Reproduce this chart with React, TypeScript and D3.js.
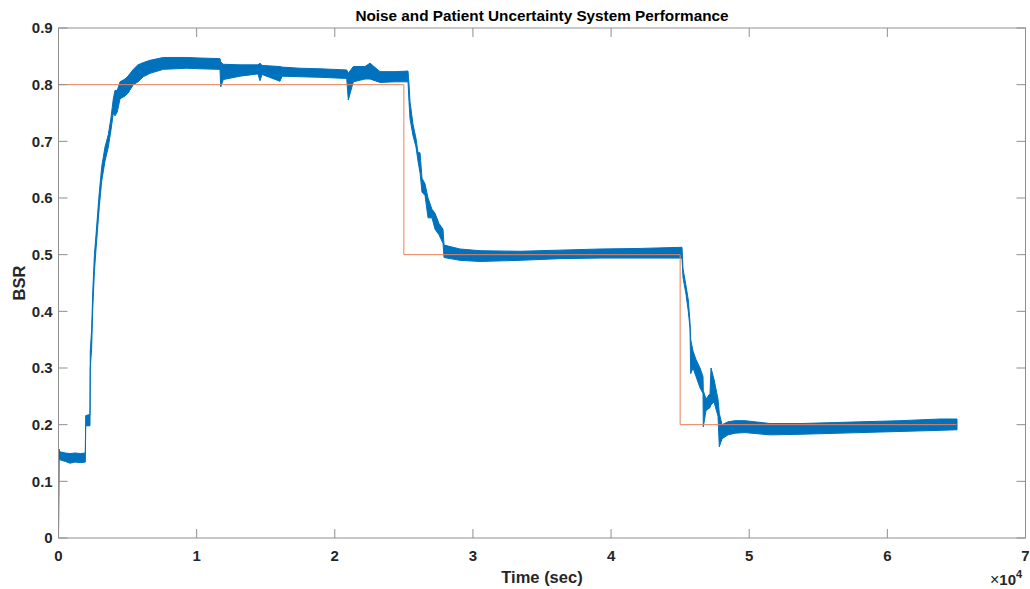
import React from "react";
import * as d3 from "d3";

// ---- data ----
const timeSec = [
  0, 36, 109, 500, 832, 1200, 1600, 1940, 1969, 2280, 2300, 2400, 2480, 2600, 2715,
  2954, 3127, 3366, 3605, 3800, 3967, 4090, 4257, 4452, 4814, 5031, 5415, 5755, 6139,
  6624, 7587, 9280, 10243, 11691, 11742, 11930, 13139, 14442, 14587, 14732, 16035,
  16180, 17483, 18930, 20864, 20979, 21341, 22188, 22550, 23274, 24360, 25300, 25373,
  25445, 25662, 25880, 26024, 26169, 26314, 26531, 26749, 27038, 27255, 27545, 27834,
  27907, 29065, 30513, 33408, 36303, 39199, 42094, 45135, 45207, 45424, 45591, 45714,
  45765, 45931, 46149, 46438, 46655, 46677, 46872, 47162, 47235, 47452, 47741, 47835,
  48030, 48465, 48972, 49696, 51506, 53678, 58021, 60917, 63812, 65043,
];
const bsrLower = [
  0, 0.14, 0.138, 0.135, 0.132, 0.134, 0.133, 0.134, 0.198, 0.198, 0.3, 0.335, 0.405, 0.47, 0.51,
  0.585, 0.63, 0.665, 0.69, 0.72, 0.75, 0.745, 0.752, 0.775, 0.78, 0.785, 0.8, 0.805, 0.814,
  0.82, 0.827, 0.829, 0.828, 0.827, 0.796, 0.809, 0.815, 0.819, 0.807, 0.818, 0.806,
  0.815, 0.814, 0.813, 0.811, 0.773, 0.805, 0.81, 0.81, 0.804, 0.805, 0.805, 0.77,
  0.74, 0.71, 0.69, 0.665, 0.645, 0.61, 0.605, 0.565, 0.565, 0.545, 0.535, 0.52,
  0.495, 0.49, 0.488, 0.49, 0.493, 0.494, 0.494, 0.494, 0.46, 0.43, 0.4, 0.37,
  0.29, 0.3, 0.285, 0.265, 0.255, 0.196, 0.225, 0.23, 0.235, 0.24, 0.215, 0.161,
  0.175, 0.182, 0.185, 0.186, 0.182, 0.183, 0.186, 0.188, 0.19, 0.191,
];
const bsrUpper = [
  0.005, 0.157, 0.152, 0.15, 0.149, 0.15, 0.149, 0.15, 0.216, 0.218, 0.33, 0.368, 0.435, 0.5, 0.535,
  0.61, 0.655, 0.69, 0.712, 0.742, 0.775, 0.79, 0.79, 0.805, 0.81, 0.815, 0.827, 0.835, 0.839,
  0.843, 0.848, 0.848, 0.847, 0.846, 0.84, 0.836, 0.835, 0.835, 0.838, 0.834, 0.832,
  0.831, 0.829, 0.828, 0.826, 0.82, 0.832, 0.832, 0.838, 0.823, 0.823, 0.824, 0.8,
  0.77, 0.73, 0.705, 0.68, 0.68, 0.635, 0.625, 0.6, 0.58, 0.573, 0.555, 0.545,
  0.517, 0.51, 0.507, 0.506, 0.508, 0.51, 0.511, 0.513, 0.475, 0.445, 0.42, 0.38,
  0.35, 0.33, 0.315, 0.3, 0.285, 0.26, 0.245, 0.255, 0.3, 0.28, 0.245, 0.22,
  0.2, 0.205, 0.207, 0.207, 0.202, 0.202, 0.205, 0.207, 0.21, 0.21,
];
const refTime = [0, 25000, 45000, 65000];
const refValue = [0.8, 0.5, 0.2, 0.2];

const xTicks = [0, 10000, 20000, 30000, 40000, 50000, 60000, 70000];
const xTickLabels = ["0", "1", "2", "3", "4", "5", "6", "7"];
const yTicks = [0, 0.1, 0.2, 0.3, 0.4, 0.5, 0.6, 0.7, 0.8, 0.9];
const yTickLabels = ["0", "0.1", "0.2", "0.3", "0.4", "0.5", "0.6", "0.7", "0.8", "0.9"];

const titleText = "Noise and Patient Uncertainty System Performance";
const xLabelText = "Time (sec)";
const yLabelText = "BSR";

export default function App() {
  const W = 1030, H = 589;
  const left = 58.5, right = 1025.5, top = 28, bottom = 538;
  const x = d3.scaleLinear().domain([0, 70000]).range([left, right]);
  const y = d3.scaleLinear().domain([0, 0.9]).range([bottom, top]);

  const band = timeSec.map((t, i) => ({ t, lo: bsrLower[i], hi: bsrUpper[i] }));
  const areaPath = d3
    .area<{ t: number; lo: number; hi: number }>()
    .x((d) => x(d.t))
    .y0((d) => y(d.lo))
    .y1((d) => y(d.hi))(band) || "";

  const ref = refTime.map((t, i) => ({ t, v: refValue[i] }));
  const refPath = d3
    .line<{ t: number; v: number }>()
    .x((d) => x(d.t))
    .y((d) => y(d.v))
    .curve(d3.curveStepAfter)(ref) || "";

  const axisColor = "#8f8f8f";
  const textColor = "#262626";
  const font = "'Liberation Sans', Arial, Helvetica, sans-serif";
  const tickLen = 9;

  return (
    <svg
      width={W}
      height={H}
      style={{ position: "absolute", left: 0, top: 0, background: "#fff" }}
      fontFamily={font}
    >
      <rect x={0} y={0} width={W} height={H} fill="#fff" />
      <path d={areaPath} fill="#0072BD" stroke="#0072BD" strokeWidth={1} strokeLinejoin="round" />
      <path d={refPath} fill="none" stroke="#E8825A" strokeWidth={1} />

      <rect x={left} y={top} width={right - left} height={bottom - top} fill="none" stroke={axisColor} strokeWidth={1} />

      {xTicks.map((t, i) => (
        <g key={"xt" + i}>
          <line x1={x(t)} x2={x(t)} y1={bottom} y2={bottom - tickLen} stroke={axisColor} />
          <line x1={x(t)} x2={x(t)} y1={top} y2={top + tickLen} stroke={axisColor} />
          <text x={x(t)} y={561} textAnchor="middle" fontSize={15} fontWeight="bold" fill={textColor}>
            {xTickLabels[i]}
          </text>
        </g>
      ))}
      {yTicks.map((v, i) => (
        <g key={"yt" + i}>
          <line x1={left} x2={left + tickLen} y1={y(v)} y2={y(v)} stroke={axisColor} />
          <line x1={right} x2={right - tickLen} y1={y(v)} y2={y(v)} stroke={axisColor} />
          <text x={52.7} y={y(v) + 5.3} textAnchor="end" fontSize={15} fontWeight="bold" fill={textColor}>
            {yTickLabels[i]}
          </text>
        </g>
      ))}

      <text x={(left + right) / 2} y={583} textAnchor="middle" fontSize={16.5} fontWeight="bold" fill={textColor}>
        {xLabelText}
      </text>
      <text
        transform={`translate(25, ${(top + bottom) / 2}) rotate(-90)`}
        textAnchor="middle"
        fontSize={16.5}
        fontWeight="bold"
        fill={textColor}
      >
        {yLabelText}
      </text>
      <text x={(left + right) / 2} y={21} textAnchor="middle" fontSize={15.3} fontWeight="bold" fill="#000">
        {titleText}
      </text>
      <text x={990} y={585} fontSize={15} fontWeight="bold" fill={textColor}>
        <tspan fontWeight="normal" fontSize={16}>×</tspan>10
        <tspan dy={-7} fontSize={11}>4</tspan>
      </text>
    </svg>
  );
}
